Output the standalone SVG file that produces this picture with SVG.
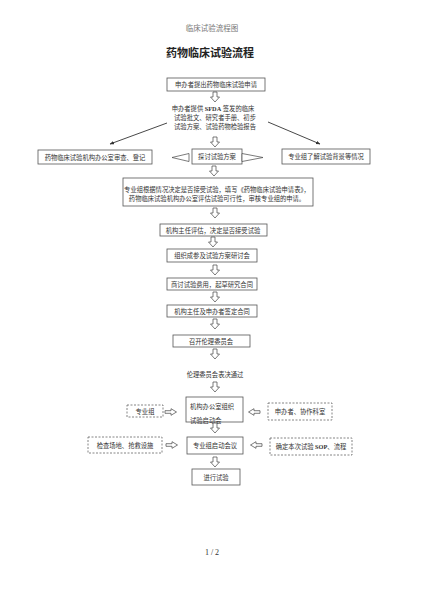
<svg xmlns="http://www.w3.org/2000/svg" xmlns:xlink="http://www.w3.org/1999/xlink" width="424" height="600" viewBox="0 0 424 600">
<style>
text{font-family:"Liberation Serif","Noto Sans CJK SC",serif;fill:#333;text-anchor:middle}
.t{font-size:6.3px}
.box{fill:#fff;stroke:#555;stroke-width:0.8}
.dash{fill:#fff;stroke:#666;stroke-width:0.8;stroke-dasharray:2 1.5}
.ar{fill:#fff;stroke:#444;stroke-width:0.7}
.ln{stroke:#333;stroke-width:0.9;fill:none}
</style>
<defs>
<path id="dn" d="M-2,0 h4 v5 h2.5 l-4.5,5 l-4.5,-5 h2.5 z"/>
<path id="rt" d="M0,-1.3 h6 v-2 l5.5,3.3 l-5.5,3.3 v-2 h-6 z"/>
<path id="lt" d="M0,-1.3 h-6 v-2 l-5.5,3.3 l5.5,3.3 v-2 h6 z"/>
<marker id="ah" viewBox="0 0 10 10" refX="9" refY="5" markerWidth="5" markerHeight="5" orient="auto"><path d="M0,1 L10,5 L0,9 z" fill="#333"/></marker>
</defs>
<rect width="424" height="600" fill="#fff"/>
<text x="212" y="31" style="font-size:7.5px;fill:#777">临床试验流程图</text>
<text x="210" y="57" style="font-size:11px;font-weight:bold;fill:#222">药物临床试验流程</text>

<g id="n1"><rect class="box" x="167" y="78" width="98" height="13"/><text class="t" x="216" y="87">申办者提出药物临床试验申请</text></g>
<g id="n2"><text class="t" x="213" y="110.5">申办者提供 <tspan font-weight="bold">SFDA</tspan> 签发的临床</text><text class="t" x="215" y="119.5">试验批文、研究者手册、初步</text><text class="t" x="215" y="128.5">试验方案、试验药物检验报告</text></g>
<g id="n3"><rect class="box" x="38" y="150" width="114" height="14"/><text class="t" x="95" y="159.5">药物临床试验机构办公室审查、登记</text></g>
<g id="n4"><rect class="box" x="192" y="149" width="50" height="15"/><text class="t" x="217" y="159">探讨试验方案</text></g>
<g id="n5"><rect class="box" x="282" y="149" width="88" height="15"/><text class="t" x="326" y="159">专业组了解试验背景等情况</text></g>
<g id="n6"><rect class="box" x="123" y="178" width="190" height="28"/><text class="t" x="217" y="192">专业组根据情况决定是否接受试验，填写《药物临床试验申请表》，</text><text class="t" x="217" y="201">药物临床试验机构办公室评估试验可行性，审核专业组的申请。</text></g>
<g id="n7"><rect class="box" x="160" y="224" width="107" height="12"/><text class="t" x="213" y="232.5">机构主任评估，决定是否接受试验</text></g>
<g id="n8"><rect class="box" x="167" y="249" width="90" height="13"/><text class="t" x="212" y="258">组织成参及试验方案研讨会</text></g>
<g id="n9"><rect class="box" x="167" y="278" width="90" height="12"/><text class="t" x="212" y="286.5">商讨试验费用，起草研究合同</text></g>
<g id="n10"><rect class="box" x="167" y="305" width="90" height="12"/><text class="t" x="212" y="313.5">机构主任及申办者签定合同</text></g>
<g id="n11"><rect class="box" x="173" y="335" width="77" height="12"/><text class="t" x="211" y="343.5">召开伦理委员会</text></g>
<g id="n12"><text class="t" x="215" y="377">伦理委员会表决通过</text></g>
<g id="n13"><rect class="box" x="186" y="397" width="57" height="25"/><text class="t" x="190" y="408.5" style="text-anchor:start">机构办公室组织</text><text class="t" x="190" y="422.5" style="text-anchor:start">试验启动会</text></g>
<g id="n14"><rect class="dash" x="127" y="405" width="36" height="12"/><text class="t" x="145" y="413.5">专业组</text></g>
<g id="n15"><rect class="dash" x="268" y="403" width="64" height="17"/><text class="t" x="300" y="414">申办者、协作科室</text></g>
<g id="n16"><rect class="box" x="187" y="437" width="56" height="17"/><text class="t" x="215" y="448">专业组启动会议</text></g>
<g id="n17"><rect class="dash" x="88" y="437" width="74" height="16"/><text class="t" x="125" y="447.5">检查场地、抢救设施</text></g>
<g id="n18"><rect class="dash" x="270" y="438" width="82" height="17"/><text class="t" x="311" y="448.5">确定本次试验 <tspan font-weight="bold">SOP</tspan>、流程</text></g>
<g id="n19"><rect class="box" x="192" y="469" width="48" height="16"/><text class="t" x="216" y="479.5">进行试验</text></g>

<g id="connectors">
<use xlink:href="#dn" class="ar" x="215" y="92"/>
<use xlink:href="#dn" class="ar" x="215" y="137"/>
<line class="ln" x1="167" y1="123" x2="110" y2="144" marker-end="url(#ah)"/>
<line class="ln" x1="268" y1="122" x2="320" y2="144" marker-end="url(#ah)"/>
<path class="ar" d="M189,153.5 L172,157.5 L189,161.5 z"/>
<path class="ar" d="M242,153.5 L263,157.5 L242,161.5 z"/>
<use xlink:href="#dn" class="ar" x="214" y="166"/>
<use xlink:href="#dn" class="ar" x="215" y="208"/>
<use xlink:href="#dn" class="ar" x="213" y="237"/>
<use xlink:href="#dn" class="ar" x="215" y="265"/>
<use xlink:href="#dn" class="ar" x="215" y="292"/>
<use xlink:href="#dn" class="ar" x="215" y="319"/>
<use xlink:href="#dn" class="ar" x="215" y="349"/>
<use xlink:href="#dn" class="ar" x="215" y="382"/>
<use xlink:href="#rt" class="ar" x="165" y="412"/>
<use xlink:href="#lt" class="ar" x="260" y="412"/>
<use xlink:href="#dn" class="ar" x="215" y="423"/>
<use xlink:href="#rt" class="ar" x="166" y="445"/>
<use xlink:href="#lt" class="ar" x="262" y="445"/>
<use xlink:href="#dn" class="ar" x="215" y="457"/>
</g>
<text x="212" y="555" style="font-size:8px;fill:#333">1 / 2</text>
</svg>
